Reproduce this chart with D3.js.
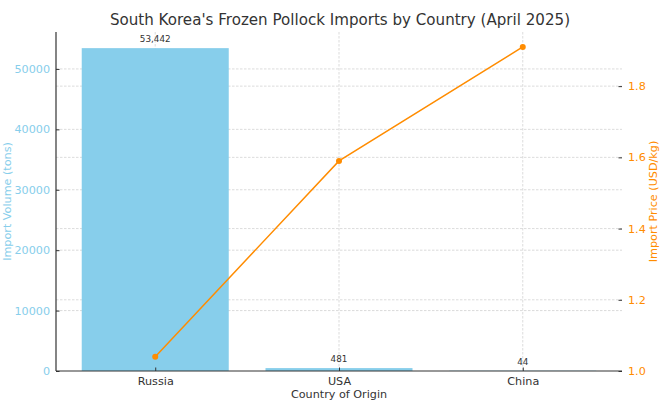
<!DOCTYPE html>
<html><head><meta charset="utf-8">
<script src="https://cdn.jsdelivr.net/npm/d3@7"></script>
<style>body{margin:0;background:#fff;} svg{display:block;font-family:"DejaVu Sans",sans-serif;}</style>
</head><body>
<svg id="c" width="664" height="406"></svg>
<script>
const countries = ["Russia", "USA", "China"];
const volumes = [53442, 481, 44];
const prices = [1.04, 1.59, 1.91];
const volumeTicks = [0, 10000, 20000, 30000, 40000, 50000];
const priceTicks = [1.0, 1.2, 1.4, 1.6, 1.8];

const W = 664, H = 406;
const m = {left: 56, right: 622, top: 32, bottom: 371};
const svg = d3.select("#c");

const x = d3.scaleLinear().domain([-0.54, 2.54]).range([m.left, m.right]);
const yL = d3.scaleLinear().domain([0, 56114]).range([m.bottom, m.top]);
const yR = d3.scaleLinear().domain([1.0, 1.952]).range([m.bottom, m.top]);
const barW = x(0.8) - x(0);

const gridColor = "#cccccc";
const g = svg.append("g");
g.selectAll(".gl").data(volumeTicks.slice(1)).enter().append("line")
  .attr("x1", m.left).attr("x2", m.right)
  .attr("y1", d => yL(d)).attr("y2", d => yL(d))
  .attr("stroke", gridColor).attr("stroke-width", 0.7).attr("stroke-dasharray", "2.5,1.5");
g.selectAll(".gr").data(priceTicks.slice(1)).enter().append("line")
  .attr("x1", m.left).attr("x2", m.right)
  .attr("y1", d => yR(d)).attr("y2", d => yR(d))
  .attr("stroke", gridColor).attr("stroke-width", 0.7).attr("stroke-dasharray", "2.5,1.5");
g.selectAll(".gv").data(countries).enter().append("line")
  .attr("x1", (d,i) => x(i)).attr("x2", (d,i) => x(i))
  .attr("y1", m.top).attr("y2", m.bottom)
  .attr("stroke", gridColor).attr("stroke-width", 0.7).attr("stroke-dasharray", "2.5,1.5");

svg.selectAll(".bar").data(volumes).enter().append("rect")
  .attr("x", (d,i) => x(i) - barW/2).attr("width", barW)
  .attr("y", d => yL(d)).attr("height", d => m.bottom - yL(d))
  .attr("fill", "#87CEEB");

svg.selectAll(".bl").data(volumes).enter().append("text")
  .attr("x", (d,i) => x(i)).attr("y", d => yL(d) - 6)
  .attr("text-anchor", "middle").attr("font-size", 8.8).attr("fill", "#333")
  .text(d => d3.format(",")(d));

const axL = d3.axisLeft(yL).tickValues(volumeTicks).tickSize(-3.5).tickPadding(6).tickFormat(d3.format("d"));
const gL = svg.append("g").attr("transform", `translate(${m.left},0)`).call(axL);
gL.select(".domain").remove();
gL.selectAll("text").attr("fill", "#87CEEB").attr("font-size", 11.2).attr("font-family", "DejaVu Sans");
gL.selectAll("line").attr("stroke", "#333");

const axR = d3.axisRight(yR).tickValues(priceTicks).tickSize(-3.5).tickPadding(6).tickFormat(d3.format(".1f"));
const gR = svg.append("g").attr("transform", `translate(${m.right},0)`).call(axR);
gR.select(".domain").remove();
gR.selectAll("text").attr("fill", "#FF8C00").attr("font-size", 11.2).attr("font-family", "DejaVu Sans");
gR.selectAll("line").attr("stroke", "#333");

const axB = d3.axisBottom(x).tickValues([0,1,2]).tickSize(-3.5).tickPadding(6).tickFormat(i => countries[i]);
const gB = svg.append("g").attr("transform", `translate(0,${m.bottom})`).call(axB);
gB.select(".domain").remove();
gB.selectAll("text").attr("fill", "#333").attr("font-size", 11.2).attr("font-family", "DejaVu Sans");
gB.selectAll("line").attr("stroke", "#333");

svg.append("line").attr("x1", m.left).attr("x2", m.left).attr("y1", m.top).attr("y2", m.bottom)
  .attr("stroke", "#333").attr("stroke-width", 1.2);
svg.append("line").attr("x1", m.left).attr("x2", m.right).attr("y1", m.bottom).attr("y2", m.bottom)
  .attr("stroke", "#333").attr("stroke-width", 1.2);

const line = d3.line().x((d,i) => x(i)).y(d => yR(d));
svg.append("path").datum(prices).attr("d", line)
  .attr("fill", "none").attr("stroke", "#FF8C00").attr("stroke-width", 1.5);
svg.selectAll(".pt").data(prices).enter().append("circle")
  .attr("cx", (d,i) => x(i)).attr("cy", d => yR(d)).attr("r", 3)
  .attr("fill", "#FF8C00");

svg.append("text").attr("x", (m.left + m.right)/2 + 1).attr("y", 25)
  .attr("text-anchor", "middle").attr("font-size", 15.1).attr("fill", "#333")
  .text("South Korea's Frozen Pollock Imports by Country (April 2025)");
svg.append("text").attr("x", (m.left + m.right)/2).attr("y", 398)
  .attr("text-anchor", "middle").attr("font-size", 11.2).attr("fill", "#333")
  .text("Country of Origin");
svg.append("text").attr("transform", `translate(11,${(m.top+m.bottom)/2}) rotate(-90)`)
  .attr("text-anchor", "middle").attr("font-size", 11.2).attr("fill", "#87CEEB")
  .text("Import Volume (tons)");
svg.append("text").attr("transform", `translate(657,${(m.top+m.bottom)/2}) rotate(-90)`)
  .attr("text-anchor", "middle").attr("font-size", 11.2).attr("fill", "#FF8C00")
  .text("Import Price (USD/kg)");
</script>
</body></html>
